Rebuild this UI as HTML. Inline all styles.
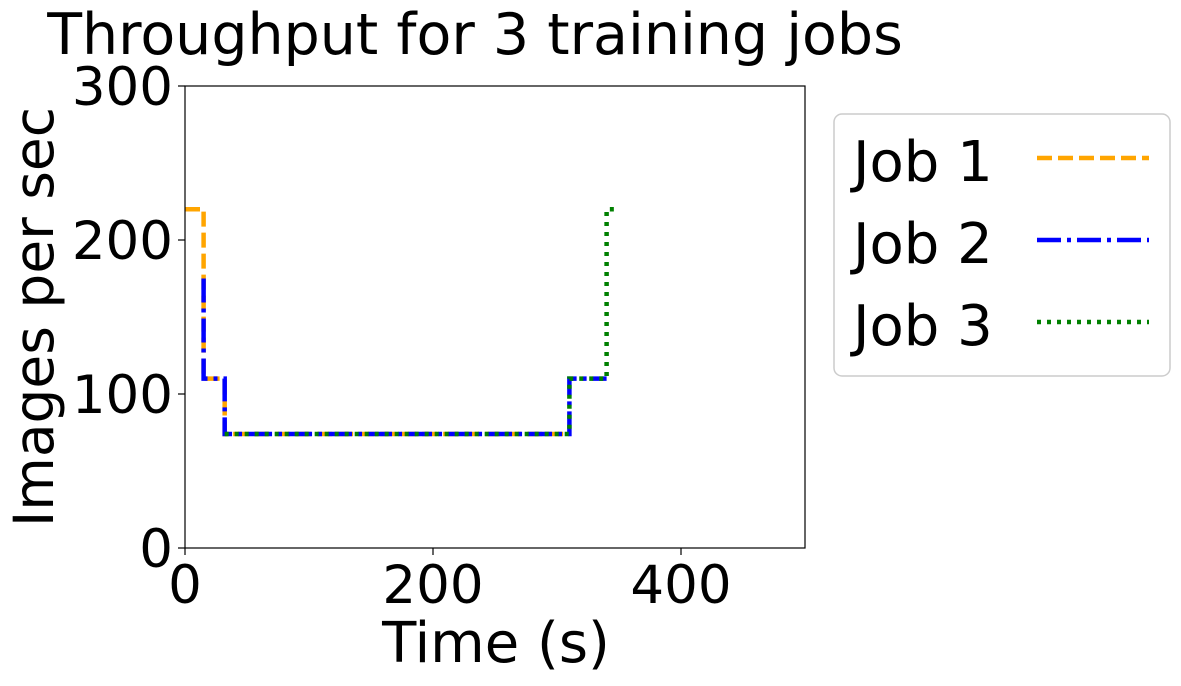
<!DOCTYPE html>
<html><head><meta charset="utf-8"><style>
body{margin:0;background:#fff}
svg text{font-family:"DejaVu Sans","Liberation Sans",sans-serif;fill:#000}
</style></head><body>
<svg id="chart" width="1181" height="681" viewBox="0 0 1181 681" xmlns="http://www.w3.org/2000/svg">
<rect width="1181" height="681" fill="#fff"/>
<text x="475" y="54" font-size="57" text-anchor="middle">Throughput for 3 training jobs</text>
<g id="series"></g>
<rect x="185" y="86" width="620" height="462" fill="none" stroke="#000" stroke-width="1.2"/>
<g id="axes"></g>
<text x="496" y="662" font-size="56" text-anchor="middle">Time (s)</text>
<text transform="translate(53,317) rotate(-90)" font-size="55" text-anchor="middle">Images per sec</text>
<g>
<rect x="834" y="114" width="336" height="262" rx="8" fill="#fff" stroke="#ccc" stroke-width="1.5"/>
<text x="853" y="181" font-size="56">Job 1</text>
<line x1="1037" y1="158" x2="1149" y2="158" stroke="orange" stroke-width="4.5" stroke-dasharray="15,6"/>
<text x="853" y="263" font-size="56">Job 2</text>
<line x1="1037" y1="240" x2="1149" y2="240" stroke="blue" stroke-width="4.5" stroke-dasharray="24,6,4,6"/>
<text x="853" y="345" font-size="56">Job 3</text>
<line x1="1037" y1="322" x2="1149" y2="322" stroke="green" stroke-width="4.5" stroke-dasharray="4,6"/>
</g>
</svg>
<script>
const xTicks = [0, 200, 400];
const yTicks = [0, 100, 200, 300];
const job1T = [0, 15, 15, 32, 32, 310];
const job1V = [220, 220, 110, 110, 74, 74];
const job2T = [15, 15, 32, 32, 310, 310, 340];
const job2V = [175, 110, 110, 74, 74, 110, 110];
const job3T = [32, 310, 310, 340, 340, 347];
const job3V = [74, 74, 110, 110, 220, 220];
const X0=185, X1=805, Y0=548, Y1=86, XMAX=500, YMAX=300;
const xs = t => X0 + (t / XMAX) * (X1 - X0);
const ys = v => Y0 - (v / YMAX) * (Y0 - Y1);
const NS = "http://www.w3.org/2000/svg";
const axes = document.getElementById('axes');
const series = document.getElementById('series');
xTicks.forEach(t => {
  const l = document.createElementNS(NS, 'line');
  l.setAttribute('x1', xs(t)); l.setAttribute('x2', xs(t));
  l.setAttribute('y1', Y0); l.setAttribute('y2', Y0 + 7);
  l.setAttribute('stroke', '#000'); l.setAttribute('stroke-width', '1.2');
  
  
  axes.appendChild(l);
  const tx = document.createElementNS(NS, 'text');
  tx.setAttribute('x', xs(t)); tx.setAttribute('y', Y0 + 55);
  tx.setAttribute('font-size', '53'); tx.setAttribute('text-anchor', 'middle');
  tx.textContent = t;
  
  
  axes.appendChild(tx);
});
yTicks.forEach(v => {
  const l = document.createElementNS(NS, 'line');
  l.setAttribute('x1', X0 - 7); l.setAttribute('x2', X0);
  l.setAttribute('y1', ys(v)); l.setAttribute('y2', ys(v));
  l.setAttribute('stroke', '#000'); l.setAttribute('stroke-width', '1.2');
  
  
  axes.appendChild(l);
  const tx = document.createElementNS(NS, 'text');
  tx.setAttribute('x', X0 - 12); tx.setAttribute('y', ys(v) + 19);
  tx.setAttribute('font-size', '53'); tx.setAttribute('text-anchor', 'end');
  tx.textContent = v;
  
  
  axes.appendChild(tx);
});
function drawLine(T, V, color, dash, name) {
  const p = document.createElementNS(NS, 'polyline');
  p.setAttribute('points', T.map((t, i) => xs(t) + ',' + ys(V[i])).join(' '));
  p.setAttribute('fill', 'none'); p.setAttribute('stroke', color);
  p.setAttribute('stroke-width', '4.5'); p.setAttribute('stroke-dasharray', dash);
  
  
  series.appendChild(p);
}
drawLine(job1T, job1V, 'orange', '15,6', 'job1-line');
drawLine(job2T, job2V, 'blue', '24,6,4,6', 'job2-line');
drawLine(job3T, job3V, 'green', '4,6', 'job3-line');
</script>
</body></html>
